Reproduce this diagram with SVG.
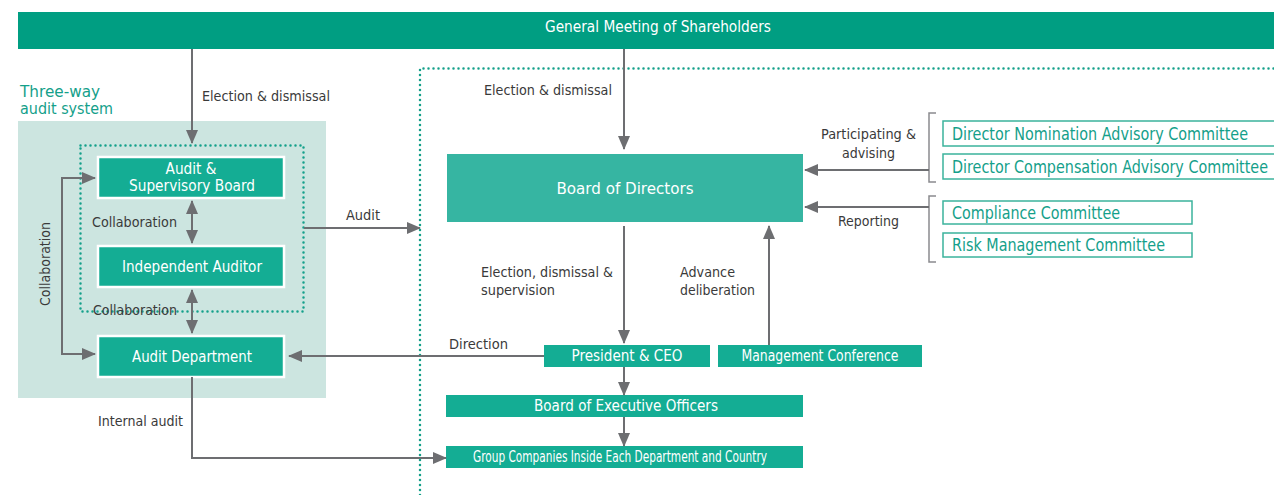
<svg xmlns="http://www.w3.org/2000/svg" width="1274" height="495" viewBox="0 0 1274 495">
<defs>
<marker id="ah" markerUnits="userSpaceOnUse" markerWidth="14" markerHeight="12" refX="13" refY="6" orient="auto-start-reverse" viewBox="0 0 14 12">
<path d="M0,0 L14,6 L0,12 z" fill="#6d6e71"/>
</marker>
<style>
text{font-family:"DejaVu Sans Condensed","Liberation Sans",sans-serif;}
.lbl{font-size:14px;fill:#3a3a3a;}
.wt{fill:#ffffff;font-size:15px;text-anchor:middle;}
.node{fill:#14ad94;}
.wnode{fill:#14ad94;stroke:#ffffff;stroke-width:2.5;}
.cm{fill:#ffffff;stroke:#3bb39c;stroke-width:1.5;}
.cmt{fill:#14a08a;font-size:17px;}
.con{fill:none;stroke:#6d6e71;stroke-width:2;}
.dot{fill:none;stroke:#14a08a;stroke-width:2.5;stroke-dasharray:0 5;stroke-linecap:round;}
.br{fill:none;stroke:#8a8b8e;stroke-width:1.5;}
</style>
</defs>
<rect width="1274" height="495" fill="#ffffff"/>

<g id="general-meeting">
<rect x="18" y="12" width="1256" height="37" fill="#009e82"/>
<text class="wt" x="658" y="32" textLength="226" lengthAdjust="spacingAndGlyphs">General Meeting of Shareholders</text>
</g>

<g id="three-way-panel">
<rect x="18" y="121" width="308" height="277" fill="#cce5e0"/>
<text x="20" y="97" font-size="16" fill="#14a08a" textLength="80" lengthAdjust="spacingAndGlyphs">Three-way</text>
<text x="20" y="114" font-size="16" fill="#14a08a" textLength="93" lengthAdjust="spacingAndGlyphs">audit system</text>
<rect class="dot" x="80.5" y="145.5" width="223" height="166"/>
</g>

<g id="exec-region">
<path class="dot" d="M420,495 L420,68.5 L1274,68.5"/>
</g>

<g id="audit-supervisory-board">
<rect class="wnode" x="98" y="157" width="186" height="41"/>
<text class="wt" x="191" y="174" textLength="51" lengthAdjust="spacingAndGlyphs">Audit &amp;</text>
<text class="wt" x="192" y="191" textLength="126" lengthAdjust="spacingAndGlyphs">Supervisory Board</text>
</g>

<g id="independent-auditor">
<rect class="wnode" x="98" y="246" width="186" height="41"/>
<text class="wt" x="192" y="272" textLength="140" lengthAdjust="spacingAndGlyphs">Independent Auditor</text>
</g>

<g id="audit-department">
<rect class="wnode" x="98" y="336" width="186" height="41"/>
<text class="wt" x="192" y="362" textLength="120" lengthAdjust="spacingAndGlyphs">Audit Department</text>
</g>

<g id="board-of-directors">
<rect x="447" y="154" width="356" height="68" fill="#36b5a2"/>
<text x="625" y="194" fill="#ffffff" font-size="16" text-anchor="middle" textLength="137" lengthAdjust="spacingAndGlyphs">Board of Directors</text>
</g>

<g id="president-ceo">
<rect class="node" x="544" y="345" width="166" height="22"/>
<text class="wt" x="627" y="361" font-size="14" textLength="111" lengthAdjust="spacingAndGlyphs">President &amp; CEO</text>
</g>

<g id="management-conference">
<rect class="node" x="718" y="345" width="204" height="22"/>
<text class="wt" x="820" y="361" font-size="14" textLength="157" lengthAdjust="spacingAndGlyphs">Management Conference</text>
</g>

<g id="board-of-executive-officers">
<rect class="node" x="446" y="395" width="357" height="22"/>
<text class="wt" x="626" y="411" font-size="14" textLength="184" lengthAdjust="spacingAndGlyphs">Board of Executive Officers</text>
</g>

<g id="group-companies">
<rect class="node" x="446" y="446" width="357" height="22"/>
<text class="wt" x="620" y="462" font-size="13" textLength="294" lengthAdjust="spacingAndGlyphs">Group Companies Inside Each Department and Country</text>
</g>

<g id="director-nomination">
<rect class="cm" x="943" y="121" width="340" height="25"/>
<text class="cmt" x="952" y="140" textLength="296" lengthAdjust="spacingAndGlyphs">Director Nomination Advisory Committee</text>
</g>

<g id="director-compensation">
<rect class="cm" x="943" y="154" width="340" height="25"/>
<text class="cmt" x="952" y="173" textLength="316" lengthAdjust="spacingAndGlyphs">Director Compensation Advisory Committee</text>
</g>

<g id="compliance-committee">
<rect class="cm" x="943" y="201" width="249" height="23"/>
<text class="cmt" x="952" y="219" textLength="168" lengthAdjust="spacingAndGlyphs">Compliance Committee</text>
</g>

<g id="risk-management-committee">
<rect class="cm" x="943" y="233" width="249" height="24"/>
<text class="cmt" x="952" y="251" textLength="213" lengthAdjust="spacingAndGlyphs">Risk Management Committee</text>
</g>

<g id="connectors">
<path class="con" d="M192,49 L192,143" marker-end="url(#ah)"/>
<path class="con" d="M624,49 L624,149" marker-end="url(#ah)"/>
<path class="con" d="M192,201 L192,243" marker-start="url(#ah)" marker-end="url(#ah)"/>
<path class="con" d="M192,290 L192,333" marker-start="url(#ah)" marker-end="url(#ah)"/>
<path class="con" d="M95,178 L62,178 L62,354 L95,354" marker-start="url(#ah)" marker-end="url(#ah)"/>
<path class="con" d="M304,228 L420,228" marker-end="url(#ah)"/>
<path class="con" d="M624,226 L624,343" marker-end="url(#ah)"/>
<path class="con" d="M769,345 L769,226" marker-end="url(#ah)"/>
<path class="con" d="M544,356 L289,356" marker-end="url(#ah)"/>
<path class="con" d="M624,367 L624,395" marker-end="url(#ah)"/>
<path class="con" d="M624,417 L624,446" marker-end="url(#ah)"/>
<path class="con" d="M192,377 L192,458 L446,458" marker-end="url(#ah)"/>
<path class="br" d="M936,113 L929,113 L929,182 L936,182"/>
<path class="br" d="M936,196 L929,196 L929,262 L936,262"/>
<path class="con" d="M929,170 L805,170" marker-end="url(#ah)"/>
<path class="con" d="M929,207 L805,207" marker-end="url(#ah)"/>
</g>

<g id="labels">
<text class="lbl" x="202" y="101" textLength="128" lengthAdjust="spacingAndGlyphs">Election &amp; dismissal</text>
<text class="lbl" x="484" y="95" textLength="128" lengthAdjust="spacingAndGlyphs">Election &amp; dismissal</text>
<text class="lbl" x="92" y="227" textLength="85" lengthAdjust="spacingAndGlyphs">Collaboration</text>
<text class="lbl" x="93" y="315" textLength="84" lengthAdjust="spacingAndGlyphs">Collaboration</text>
<text class="lbl" transform="translate(50,264) rotate(-90)" text-anchor="middle" textLength="84" lengthAdjust="spacingAndGlyphs">Collaboration</text>
<text class="lbl" x="346" y="220" textLength="34" lengthAdjust="spacingAndGlyphs">Audit</text>
<text class="lbl" x="481" y="277" textLength="132" lengthAdjust="spacingAndGlyphs">Election, dismissal &amp;</text>
<text class="lbl" x="481" y="295" textLength="74" lengthAdjust="spacingAndGlyphs">supervision</text>
<text class="lbl" x="680" y="277" textLength="55" lengthAdjust="spacingAndGlyphs">Advance</text>
<text class="lbl" x="680" y="295" textLength="75" lengthAdjust="spacingAndGlyphs">deliberation</text>
<text class="lbl" x="449" y="349" textLength="59" lengthAdjust="spacingAndGlyphs">Direction</text>
<text class="lbl" x="98" y="426" textLength="85" lengthAdjust="spacingAndGlyphs">Internal audit</text>
<text class="lbl" x="821" y="139" textLength="95" lengthAdjust="spacingAndGlyphs">Participating &amp;</text>
<text class="lbl" x="842" y="158" textLength="53" lengthAdjust="spacingAndGlyphs">advising</text>
<text class="lbl" x="838" y="226" textLength="61" lengthAdjust="spacingAndGlyphs">Reporting</text>
</g>
</svg>
